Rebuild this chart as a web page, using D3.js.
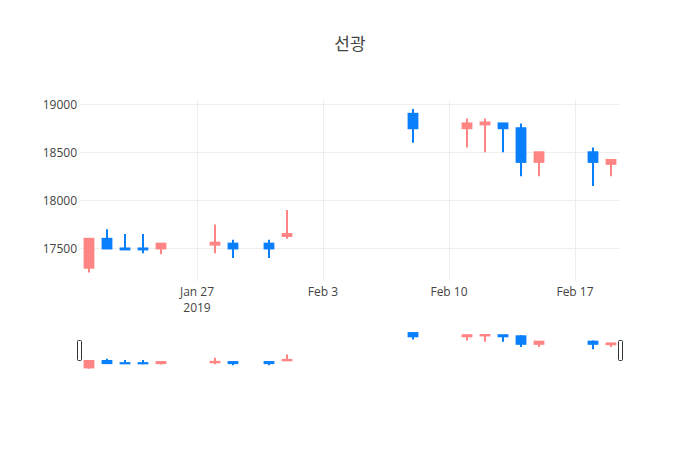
<!DOCTYPE html>
<html>
<head>
<meta charset="utf-8">
<script src="https://cdn.jsdelivr.net/npm/d3@7"></script>
<style>
  body { margin: 0; background: #fff; }
  svg text { font-family: "Open Sans", "Noto Sans CJK KR", sans-serif; fill: #444; }
</style>
</head>
<body>
<svg id="canvas" width="700" height="450"></svg>
<script>
const width = 700;
const height = 450;

const title = "선광";

const dates = ["2019-01-21","2019-01-22","2019-01-23","2019-01-24","2019-01-25",
  "2019-01-28","2019-01-29","2019-01-31","2019-02-01","2019-02-08",
  "2019-02-11","2019-02-12","2019-02-13","2019-02-14","2019-02-15",
  "2019-02-18","2019-02-19"];
const open  = [17300,17600,17500,17500,17500,17540,17550,17550,17630,18900,18750,18790,18800,18750,18400,18500,18380];
const high  = [17600,17700,17650,17650,17550,17750,17590,17590,17900,18950,18850,18850,18800,18800,18500,18550,18420];
const low   = [17250,17500,17490,17450,17440,17450,17400,17400,17600,18600,18550,18500,18500,18250,18250,18150,18250];
const close = [17600,17500,17490,17490,17550,17560,17500,17500,17650,18750,18800,18810,18750,18400,18500,18400,18420];

const yTicks = [17500, 18000, 18500, 19000];
const xTicks = ["2019-01-27","2019-02-03","2019-02-10","2019-02-17"];
const xTickLabels = [["Jan 27","2019"],["Feb 3"],["Feb 10"],["Feb 17"]];

const upColor = "#ff8585";
const downColor = "#0a7ffb";

const parse = d3.utcParse("%Y-%m-%d");
const data = dates.map((d,i) => ({
  date: parse(d), o: open[i], h: high[i], l: low[i], c: close[i]
}));

const svg = d3.select("#canvas");

const left = 80, right = 620;
const mainTop = 100, mainBottom = 281.5;
const sliderTop = 330, sliderBottom = 370.5;

const halfDay = 12 * 3600 * 1000;
const x = d3.scaleUtc()
  .domain([new Date(data[0].date - halfDay), new Date(+data[data.length-1].date + halfDay)])
  .range([left, right]);

const yMin = d3.min(low), yMax = d3.max(high);
const pad = (yMax - yMin) * 0.055;
const y = d3.scaleLinear().domain([yMin - pad, yMax + pad]).range([mainBottom, mainTop]);
const ys = d3.scaleLinear().domain([yMin - pad, yMax + pad]).range([sliderBottom, sliderTop]);

// title
svg.append("text")
  .attr("x", width/2).attr("y", 50)
  .attr("text-anchor", "middle")
  .style("font-size", "17px")
  .text(title);

// grid
svg.append("g").selectAll("line")
  .data(yTicks).enter().append("line")
  .attr("x1", left).attr("x2", right)
  .attr("y1", d => Math.round(y(d)) + 0.5).attr("y2", d => Math.round(y(d)) + 0.5)
  .attr("stroke", "#eee");

svg.append("g").selectAll("line")
  .data(xTicks).enter().append("line")
  .attr("x1", d => Math.round(x(parse(d))) + 0.5).attr("x2", d => Math.round(x(parse(d))) + 0.5)
  .attr("y1", mainTop).attr("y2", mainBottom)
  .attr("stroke", "#eee");

// y labels
svg.append("g").selectAll("text")
  .data(yTicks).enter().append("text")
  .attr("x", left - 3).attr("y", d => y(d) + 4.5)
  .attr("text-anchor", "end")
  .style("font-size", "12px")
  .text(d => d);

// x labels
const xl = svg.append("g").selectAll("text")
  .data(xTicks).enter().append("text")
  .attr("x", d => x(parse(d)))
  .attr("y", mainBottom + 14.5)
  .attr("text-anchor", "middle")
  .style("font-size", "12px");
xl.each(function(d, i){
  const t = d3.select(this);
  xTickLabels[i].forEach((s, j) => {
    t.append("tspan").attr("x", x(parse(d))).attr("dy", j === 0 ? 0 : 15.6).text(s);
  });
});

const bodyW = x(new Date(+data[0].date + 0.6 * 2 * halfDay)) - x(data[0].date);

function drawCandles(g, yy){
  const c = g.selectAll("g.candle").data(data).enter().append("g").attr("class","candle");
  const col = d => d.c >= d.o ? upColor : downColor;
  c.append("line")
    .attr("x1", d => x(d.date)).attr("x2", d => x(d.date))
    .attr("y1", d => yy(d.h)).attr("y2", d => yy(d.l))
    .attr("stroke", col).attr("stroke-width", 2);
  c.append("rect")
    .attr("x", d => x(d.date) - bodyW/2 + 1)
    .attr("width", bodyW - 2)
    .attr("y", d => yy(Math.max(d.o, d.c)))
    .attr("height", d => Math.abs(yy(d.o) - yy(d.c)))
    .attr("fill", col).attr("stroke", col).attr("stroke-width", 2);
}

drawCandles(svg.append("g"), y);

// range slider
const slider = svg.append("g");
slider.append("rect")
  .attr("x", left).attr("y", sliderTop)
  .attr("width", right - left).attr("height", sliderBottom - sliderTop)
  .attr("fill", "#fff");
drawCandles(slider.append("g"), ys);

const hh = Math.round((sliderBottom - sliderTop) / 2);
[left - 2.5, right - 1.5].forEach(hx => {
  slider.append("rect")
    .attr("x", hx).attr("y", sliderTop + 10.5)
    .attr("width", 4).attr("height", hh)
    .attr("rx", 1)
    .attr("fill", "#fff").attr("stroke", "#333").attr("stroke-width", 1);
});
</script>
</body>
</html>
